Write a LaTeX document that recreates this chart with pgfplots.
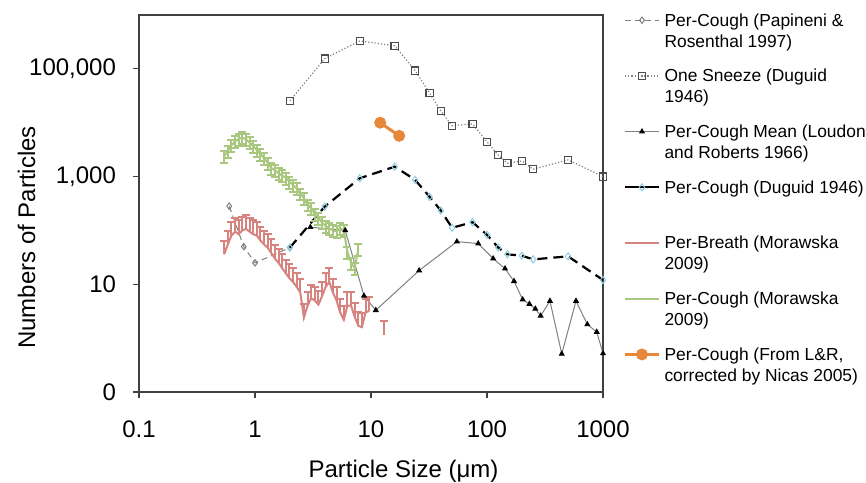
\documentclass[border=0pt]{standalone}
\usepackage{fontspec}
\setmainfont{Liberation Sans}
\usepackage{pgfplots}
\usepackage{pgfplotstable}
\pgfplotsset{compat=1.18}

\definecolor{breath}{HTML}{D7837F}
\definecolor{mcough}{HTML}{A9C77F}
\definecolor{nicas}{HTML}{E6873A}
\definecolor{dugmark}{HTML}{8FCDE0}

\newcommand{\two}[2]{\begin{tabular}[t]{@{}l@{}}#1\\#2\end{tabular}}

% Morawska 2009, per cough (APS channels)
\pgfplotstableread{
x y
0.542 2400
0.583 3000
0.626 3800
0.673 4500
0.723 5000
0.777 5300
0.835 4900
0.898 4300
0.965 3700
1.037 3100
1.114 2600
1.197 2200
1.286 1800
1.382 1450
1.486 1300
1.596 1150
1.715 1050
1.843 950
1.981 800
2.129 700
2.288 600
2.458 480
2.642 400
2.839 300
3.051 260
3.278 200
3.523 170
3.786 140
4.068 120
4.371 110
4.698 100
5.048 95
5.425 110
5.829 100
6.264 40
6.732 25
7.234 20
7.774 45
}\coughM

% Morawska 2009, per breath
\pgfplotstableread{
x y
0.542 36
0.583 55
0.626 80
0.673 95
0.723 85
0.777 100
0.835 107
0.898 95
0.965 85
1.037 80
1.114 65
1.197 55
1.286 48
1.382 38
1.486 30
1.596 25
1.715 20
1.843 16
1.981 13
2.129 11
2.288 9
2.458 7
2.642 2.4
2.839 4
3.051 5.5
3.278 5
3.523 4.2
3.786 6
4.068 9
4.371 11
4.698 7
5.048 5
5.425 3
5.829 2.2
6.264 4
6.732 4
7.234 2.5
7.774 1.7
8.354 1.6
8.977 3
9.647 3.2
11.0 nan
12.86 1.15
}\breathM

\begin{document}
\begin{tikzpicture}
\path[use as bounding box] (-69.5pt,-45pt) rectangle (363.5pt,196pt);
\begin{axis}[
  scale only axis, width=232pt, height=188.5pt,
  at={(0,0)}, anchor=south west,
  xmode=log, ymode=log,
  xmin=0.1, xmax=1000, ymin=0.1, ymax=1e6,
  xtick={0.1,1,10,100,1000}, xticklabels={0.1,1,10,100,1000},
  ytick={0.1,10,1000,100000}, yticklabels={0,10,{1,000},{100,000}},
  xminorticks=false, yminorticks=false,
  tick align=outside, xtick pos=bottom, ytick pos=left,
  major tick length=3pt,
  axis line style={black!75, line width=0.6pt},
  tick style={black!75, line width=0.6pt},
  tick label style={font=\fontsize{12}{14}\selectfont},
  xticklabel style={yshift=-8pt},
  yticklabel style={xshift=-5pt},
  label style={font=\fontsize{12}{14}\selectfont},
  xlabel={Particle Size (μm)},
  ylabel={Numbers of Particles},
  xlabel style={at={(ticklabel cs:0.57)}, yshift=-4pt},
  ylabel style={at={(ticklabel cs:0.41)}, yshift=-10pt},
  unbounded coords=jump,
  legend style={draw=none, at={(1,1)}, anchor=north west, xshift=7pt, yshift=6pt,
    font=\fontsize{8.7}{10.5}\selectfont, cells={anchor=base west}, row sep=15pt},
  legend cell align=left,
]
\addplot[gray, densely dashed, line width=0.5pt, mark=diamond, mark size=1.6pt,
  mark options={solid, fill=white}]
  coordinates {(0.6,282) (0.8,50) (1,25) (2,48)};
\addlegendentry{\two{Per-Cough (Papineni \&}{Rosenthal 1997)}}

\addplot[gray, densely dotted, line width=0.6pt, mark=square, mark size=1.8pt,
  mark options={solid, draw=black!70, fill=white}]
  coordinates {(2,25500) (4,155000) (8,330000) (16,268000) (24,93000) (32,35500)
    (40,16500) (50,8800) (75,9500) (100,4400) (125,2500) (150,1770) (200,1950)
    (250,1370) (500,2040) (1000,1000)};
\addlegendentry{\two{One Sneeze (Duguid}{1946)}}

\addplot[gray, line width=0.5pt, mark=triangle*, mark size=1.3pt,
  mark options={black}]
  coordinates {(3,115) (6,100) (8.7,6.1) (11,3.3) (26,18) (55,62) (84,57) (113,30)
    (143,19.5) (171,11.4) (203,5.2) (232,4.3) (261,3.5) (290,2.6) (349,4.9)
    (441,0.51) (585,4.9) (733,1.8) (883,1.3) (1000,0.52)};
\addlegendentry{\two{Per-Cough Mean (Loudon}{and Roberts 1966)}}

\addplot[black, line width=1.1pt, dash pattern=on 5pt off 3pt, mark=diamond,
  mark size=1.8pt, mark options={solid, draw=dugmark, fill=white, line width=0.5pt},
  legend image post style={solid}]
  coordinates {(2,48) (4,278) (8,930) (16,1530) (24,870) (32,420) (40,234) (50,112)
    (75,142) (100,83) (125,48) (150,36) (200,34) (250,29) (500,33) (1000,12)};
\addlegendentry{\two{Per-Cough (Duguid 1946)}{}}

\addplot[breath, line width=1pt, no marks,
  error bars/.cd, y dir=plus, y fixed relative=0.8,
  error bar style={breath, line width=1pt},
  error mark options={breath, line width=1pt, mark size=2pt, rotate=90}]
  table[x=x, y=y] {\breathM};
\addlegendentry{\two{Per-Breath (Morawska}{2009)}}

\addplot[mcough, line width=1pt, no marks,
  error bars/.cd, y dir=both, y fixed relative=0.25,
  error bar style={mcough, line width=1pt},
  error mark options={mcough, line width=1pt, mark size=2pt, rotate=90}]
  table[x=x, y=y] {\coughM};
\addlegendentry{\two{Per-Cough (Morawska}{2009)}}

\addplot[nicas, line width=1.5pt, mark=*, mark size=2.2pt]
  coordinates {(12,10000) (17.5,5700)};
\addlegendentry{\two{Per-Cough (From L\&R,}{corrected by Nicas 2005)}}
\end{axis}
\end{tikzpicture}
\end{document}
